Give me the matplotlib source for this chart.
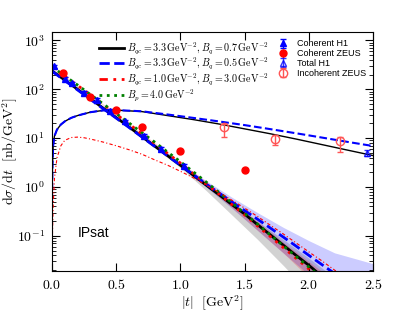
import numpy as np
import matplotlib
matplotlib.use('Agg')
import matplotlib.pyplot as plt
from matplotlib.ticker import FuncFormatter, LogLocator

plt.rcParams['mathtext.fontset'] = 'cm'

# coherent cross sections (model curves)
t_coh = [0, 0.1, 0.2, 0.3, 0.4, 0.5, 0.6, 0.7, 0.8, 0.9, 1.0, 1.1, 1.2, 1.3,
         1.4, 1.5, 1.6, 1.7, 1.8, 1.9, 2.0, 2.1, 2.2]
coh_black = [240, 155, 100, 64, 41, 26.5, 17, 10.8, 6.9, 4.4, 2.8, 1.75, 1.1,
             0.7, 0.44, 0.28, 0.17, 0.105, 0.065, 0.04, 0.025, 0.015, 0.009]
coh_blue = [235, 151, 97, 62, 40, 25.8, 16.6, 10.6, 6.8, 4.35, 2.8, 1.8, 1.15,
            0.76, 0.5, 0.33, 0.22, 0.145, 0.095, 0.062, 0.04, 0.026, 0.017]
coh_red = [285, 185, 120, 77, 49, 31, 19.5, 12.3, 7.8, 4.9, 3.1, 1.9, 1.18,
           0.72, 0.44, 0.27, 0.16, 0.097, 0.058, 0.035, 0.021, 0.013, 0.008]
coh_green = [290, 188, 122, 78, 50, 32, 20.5, 13, 8.3, 5.2, 3.3, 2.05, 1.27,
             0.78, 0.48, 0.29, 0.175, 0.105, 0.063, 0.038, 0.023, 0.014, 0.008]

# uncertainty bands
t_band = [0, 0.5, 1.0, 1.2, 1.4, 1.6, 1.8, 2.0, 2.2, 2.4, 2.5]
grey_lo = [235, 25.5, 2.5, 0.85, 0.27, 0.085, 0.025, 0.007, 0.002, 0.0005, 0.0003]
grey_hi = [245, 27.5, 2.95, 1.25, 0.5, 0.2, 0.085, 0.035, 0.014, 0.006, 0.004]
blue_lo = [232, 25.5, 2.6, 1.0, 0.37, 0.13, 0.045, 0.016, 0.006, 0.002, 0.001]
blue_hi = [245, 28, 3.1, 1.35, 0.62, 0.3, 0.15, 0.08, 0.045, 0.032, 0.027]
red_lo = [280, 30, 2.95, 1.05, 0.38, 0.13, 0.045, 0.014, 0.004, 0.001, 0.0005]
red_hi = [290, 32, 3.25, 1.3, 0.5, 0.2, 0.075, 0.03, 0.012, 0.005, 0.003]

# incoherent cross sections
t_inc = [0, 0.005, 0.01, 0.02, 0.04, 0.07, 0.1, 0.15, 0.2, 0.3, 0.4, 0.5,
         0.7, 0.9, 1.1, 1.3, 1.5, 1.7, 1.9, 2.1, 2.3, 2.5]
inc_black = [0.3, 3, 7, 11, 15, 19, 22, 26, 29, 34, 37, 37.5, 35, 29, 24,
             19.5, 15.5, 12.3, 9.6, 7.4, 5.7, 4.4]
inc_blue = [0.3, 3, 7, 11, 15, 19, 22, 26, 29, 34, 37, 37.5, 35.5, 30.5, 26,
            22, 18.5, 15.3, 12.6, 10.3, 8.4, 6.9]
t_inc_r = [0, 0.005, 0.01, 0.02, 0.04, 0.07, 0.1, 0.15, 0.2, 0.25, 0.3, 0.4,
           0.5, 0.6, 0.7, 0.8, 0.9, 1.0, 1.1, 1.2, 1.3, 1.4, 1.5, 1.6, 1.7,
           1.8, 1.9, 2.0, 2.1, 2.2, 2.3]
inc_red = [0.02, 0.12, 0.4, 1.5, 4, 7, 9, 10.3, 10.5, 10.2, 9.6, 8.3, 7, 5.8,
           4.7, 3.6, 2.8, 2.1, 1.55, 1.1, 0.78, 0.54, 0.37, 0.25, 0.165, 0.11,
           0.072, 0.047, 0.031, 0.02, 0.013]

# data
h1_t = [0.02, 0.1, 0.16, 0.25, 0.35, 0.45, 0.57, 0.72, 0.85, 1.03]
h1_v = [295, 165, 132, 85, 60, 36, 22, 11.3, 6, 2.7]
zeus_t = [0.09, 0.3, 0.5, 0.7, 1.0, 1.5]
zeus_v = [215, 69, 37, 17, 5.4, 2.2]
tot_t = [2.45]
tot_v = [5.0]
inczeus_t = [1.34, 1.74, 2.24]
inczeus_v = [17, 9.5, 8.7]
inczeus_lo = [6.6, 2.3, 3.5]
inczeus_hi = [2.8, 2.0, 1.8]

fig = plt.figure(figsize=(4.15, 3.12), dpi=100)
ax = fig.add_axes([0.125, 0.131, 0.774, 0.767])

ax.fill_between(t_band, grey_lo, grey_hi, color='gray', alpha=0.35, lw=0)
ax.fill_between(t_band, blue_lo, blue_hi, color='blue', alpha=0.2, lw=0)
ax.fill_between(t_band, red_lo, red_hi, color='red', alpha=0.2, lw=0)

l1, = ax.plot(t_coh, coh_black, 'k-', lw=2)
l2, = ax.plot(t_coh, coh_blue, 'b--', lw=2)
l3, = ax.plot(t_coh, coh_red, color='red', ls=(0, (1, 2)), lw=2)
l4, = ax.plot(t_coh, coh_green, color='green', ls=':', lw=2)
ax.plot(t_inc, inc_black, 'k-', lw=1)
ax.plot(t_inc, inc_blue, 'b--', lw=1.5)
ax.plot(t_inc_r, inc_red, color='red', ls=(0, (3, 2, 1, 2)), lw=0.8)
l3h, = ax.plot([], [], color='red', ls=(0, (3, 2, 1, 2)), lw=2)

h1 = ax.errorbar(h1_t, h1_v, yerr=np.array(h1_v) * 0.08, fmt='^', color='blue',
                 ms=5, capsize=2, lw=1)
zeus = ax.errorbar(zeus_t, zeus_v, yerr=np.array(zeus_v) * 0.08, fmt='o',
                   color='red', ms=5, capsize=0, lw=1)
tot = ax.errorbar(tot_t, tot_v, yerr=[[0.6], [0.6]], fmt='^', color='blue',
                  mfc='none', ms=5, capsize=2, lw=1, alpha=0.8)
inc = ax.errorbar(inczeus_t, inczeus_v, yerr=[inczeus_lo, inczeus_hi], fmt='o',
                  color='#ff5555', mfc='none', ms=6, capsize=2, lw=1)

ax.set_yscale('log')
ax.set_xlim(0, 2.5)
ax.set_ylim(0.019, 1500)
ax.set_xticks([0, 0.5, 1.0, 1.5, 2.0, 2.5])
ax.xaxis.set_major_formatter(FuncFormatter(lambda v, p: r'$%.1f$' % v))
ax.yaxis.set_major_locator(LogLocator(base=10))
ax.yaxis.set_major_formatter(FuncFormatter(lambda v, p: r'$10^{%d}$' % round(np.log10(v))))
ax.tick_params(which='both', direction='in', top=True, right=True, labelsize=10)
ax.tick_params(which='major', length=6, pad=5)
ax.tick_params(which='minor', length=3)

ax.set_xlabel(r'$|t|\ \ [\mathrm{GeV}^2]$', fontsize=10, labelpad=1)
ax.set_ylabel(r'$\mathrm{d}\sigma/\mathrm{d}t\ \ [\mathrm{nb}/\mathrm{GeV}^2]$',
              fontsize=10)
ax.yaxis.set_label_coords(-0.1, 0.5)

leg1 = ax.legend([l1, l2, l3h, l4],
                 [r'$B_{qc}=3.3\,\mathrm{GeV}^{-2}, B_q=0.7\,\mathrm{GeV}^{-2}$',
                  r'$B_{qc}=3.3\,\mathrm{GeV}^{-2}, B_q=0.5\,\mathrm{GeV}^{-2}$',
                  r'$B_{qc}=1.0\,\mathrm{GeV}^{-2}, B_q=3.0\,\mathrm{GeV}^{-2}$',
                  r'$B_p=4.0\,\mathrm{GeV}^{-2}$'],
                 loc='upper left', bbox_to_anchor=(0.125, 0.995), frameon=False,
                 fontsize=7.2, labelspacing=0.0, handlelength=2.5,
                 handletextpad=0.3, borderpad=0.2)
ax.add_artist(leg1)
ax.legend([h1, zeus, tot, inc],
          ['Coherent H1', 'Coherent ZEUS', 'Total H1', 'Incoherent ZEUS'],
          loc='upper left', bbox_to_anchor=(0.68, 0.995), frameon=False,
          prop={'family': 'Liberation Sans', 'size': 6.5}, labelspacing=0.1,
          numpoints=1, handlelength=1.5, handletextpad=0.8, borderpad=0.2)

ax.text(0.08, 0.16, 'IPsat', transform=ax.transAxes, fontsize=10,
        family='Liberation Sans', va='center')

fig.savefig('out.png', dpi=100)
